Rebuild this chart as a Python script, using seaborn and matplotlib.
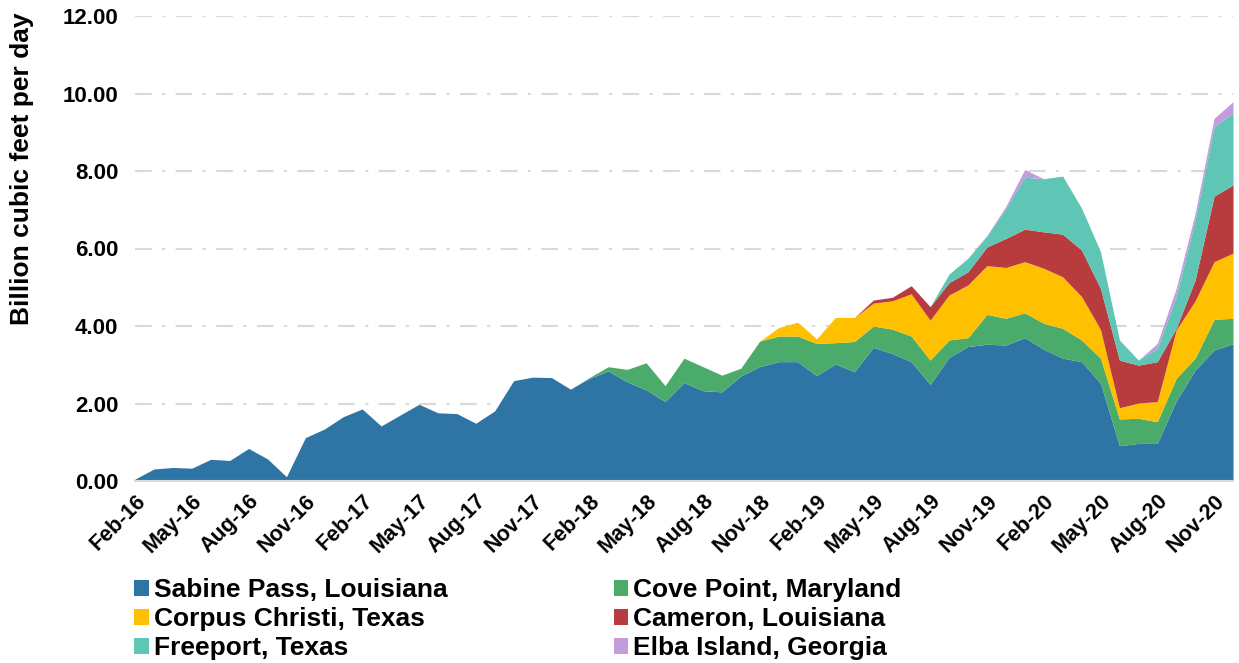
import numpy as np
import pandas as pd
import matplotlib
matplotlib.use('Agg')
import matplotlib.pyplot as plt
import seaborn as sns
from matplotlib.patches import Patch

# monthly LNG exports by terminal, Feb-16 .. Dec-20 (Bcf/d)
months = pd.date_range('2016-02-01', '2020-12-01', freq='MS')
month_labels = [m.strftime('%b-%y') for m in months]

sabine_pass = [0.05, 0.31, 0.35, 0.33, 0.56, 0.53, 0.84, 0.57, 0.11, 1.12,
               1.34, 1.66, 1.86, 1.42, 1.70, 1.98, 1.76, 1.74, 1.49, 1.81,
               2.59, 2.68, 2.67, 2.37, 2.65, 2.84, 2.56, 2.35, 2.05, 2.54,
               2.33, 2.30, 2.71, 2.95, 3.08, 3.08, 2.72, 3.02, 2.82, 3.45,
               3.29, 3.08, 2.49, 3.19, 3.47, 3.53, 3.51, 3.70, 3.40, 3.17,
               3.08, 2.52, 0.91, 0.97, 0.97, 2.07, 2.86, 3.38, 3.54]
cove_point = [0.0] * 24 + [0.02, 0.11, 0.32, 0.70, 0.41, 0.63, 0.62, 0.43, 0.20, 0.66,
                           0.66, 0.66, 0.83, 0.55, 0.78, 0.55, 0.63, 0.66, 0.63, 0.45,
                           0.23, 0.77, 0.69, 0.64, 0.67, 0.77, 0.56, 0.65, 0.69, 0.65,
                           0.56, 0.58, 0.31, 0.79, 0.66]
corpus_christi = [0.0] * 33 + [0.0, 0.22, 0.36, 0.12, 0.65, 0.62, 0.59, 0.73, 1.09, 1.03,
                               1.16, 1.36, 1.26, 1.31, 1.32, 1.42, 1.33, 1.12, 0.74, 0.29,
                               0.39, 0.52, 1.25, 1.48, 1.49, 1.68]
cameron = [0.0] * 38 + [0.0, 0.08, 0.09, 0.21, 0.35, 0.32, 0.34, 0.48, 0.75, 0.84,
                        0.94, 1.10, 1.20, 1.06, 1.23, 0.98, 1.03, 0.04, 0.54, 1.69,
                        1.76]
freeport = [0.0] * 42 + [0.0, 0.22, 0.35, 0.28, 0.78, 1.34, 1.37, 1.50, 1.08, 0.95,
                         0.52, 0.13, 0.34, 0.82, 1.55, 1.79, 1.86]
elba_island = [0.0] * 45 + [0.02, 0.05, 0.20, 0.0, 0.0, 0.0, 0.0, 0.0, 0.0, 0.13,
                            0.21, 0.17, 0.22, 0.29]

series_names = ['Sabine Pass, Louisiana', 'Cove Point, Maryland', 'Corpus Christi, Texas',
                'Cameron, Louisiana', 'Freeport, Texas', 'Elba Island, Georgia']
colors = ['#2E75A5', '#4AAB6B', '#FFC000', '#B83C3E', '#5FC5B4', '#C29CDD']

sns.set_style('white')
plt.rcParams['font.family'] = ['Liberation Sans', 'DejaVu Sans']
plt.rcParams['font.weight'] = 'bold'
plt.rcParams['text.color'] = 'black'
plt.rcParams['xtick.color'] = 'black'
plt.rcParams['ytick.color'] = 'black'

fig = plt.figure(figsize=(12.39, 6.63), dpi=100)
ax = fig.add_axes([135 / 1239, 1 - 481 / 663, (1233 - 135) / 1239, (481 - 16) / 663])

x = np.arange(len(months))
ax.stackplot(x, sabine_pass, cove_point, corpus_christi, cameron, freeport, elba_island,
             colors=sns.color_palette(colors), linewidth=0)

ax.set_xlim(0, len(months) - 1)
ax.set_ylim(0, 12)
ax.set_yticks(np.arange(0, 12.1, 2))
ax.set_yticklabels([f'{v:.2f}' for v in np.arange(0, 12.1, 2)], fontsize=16, fontweight='bold')
ax.set_xticks(x[::3])
ax.set_xticklabels(month_labels[::3], rotation=45, ha='right', rotation_mode='anchor',
                   fontsize=15.5, fontweight='bold')
ax.tick_params(axis='x', length=6, width=1.2, color='#D9D9D9', labelcolor='black', pad=1)
ax.tick_params(axis='y', length=0, pad=12, labelcolor='black')

for v in np.arange(2, 12.1, 2):
    ax.axhline(v, color='#D9D9D9', lw=1.5, ls=(0, (8, 5, 1.5, 5)), zorder=0)
ax.set_axisbelow(True)

for s in ['top', 'right', 'left']:
    ax.spines[s].set_visible(False)
ax.spines['bottom'].set_color('#D9D9D9')
ax.spines['bottom'].set_linewidth(1.5)

fig.text(22 / 1239, 1 - 168.5 / 663, 'Billion cubic feet per day', rotation=90,
         ha='center', va='center', fontsize=19, fontweight='bold', color='black')

# legend: two columns, row-major order as in the original
order = [0, 2, 4, 1, 3, 5]
handles = [Patch(facecolor=colors[i], edgecolor='none') for i in order]
labels = [series_names[i] for i in order]
fig.legend(handles, labels, loc='upper left', bbox_to_anchor=(134 / 1239, 1 - 578 / 663),
           ncol=2, frameon=False, prop={'size': 19, 'weight': 'bold'},
           handlelength=0.55, handleheight=0.55, handletextpad=0.2,
           labelspacing=0.19, columnspacing=6.3, borderpad=0, borderaxespad=0)

fig.savefig('out.png', dpi=100)
